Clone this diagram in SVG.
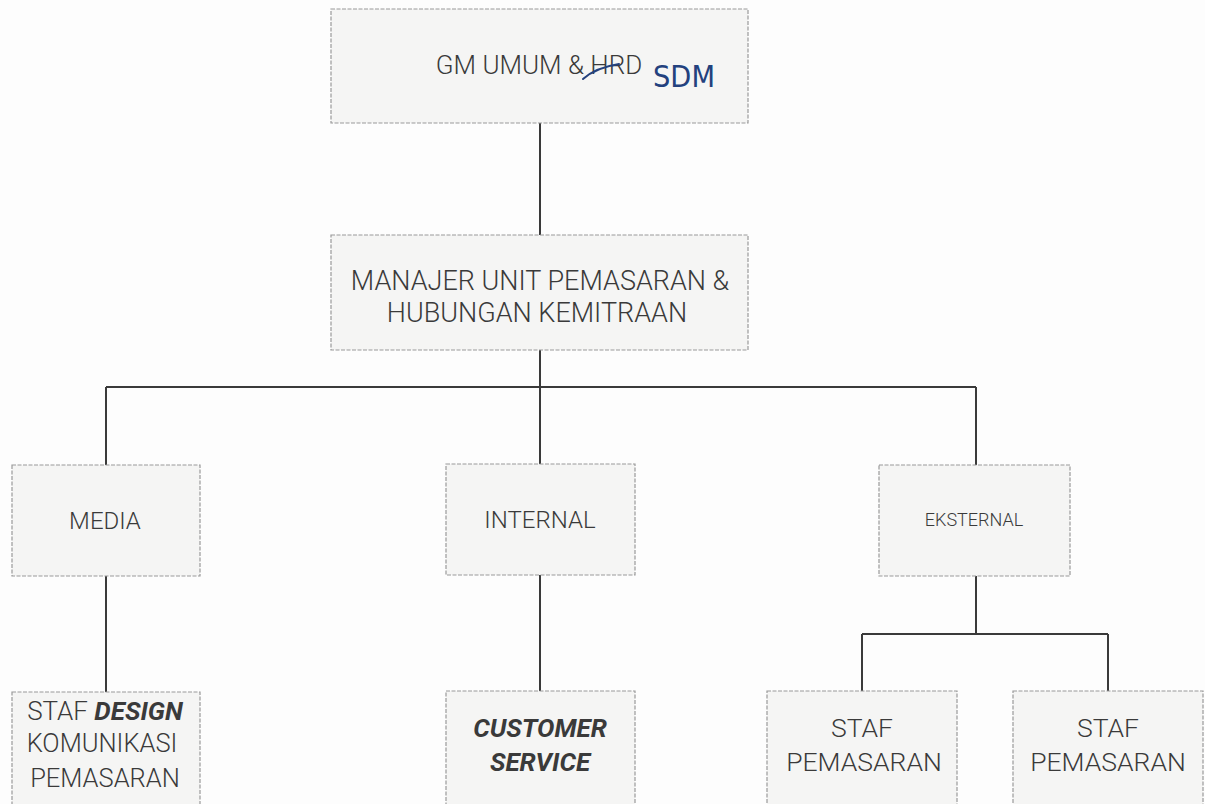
<svg xmlns="http://www.w3.org/2000/svg" width="1205" height="804" viewBox="0 0 1205 804">
<style>
.box{fill:#f5f5f4;stroke:#9a9a9a;stroke-width:1.2;stroke-dasharray:4 1.5}
.t{font-family:Roboto,"Liberation Sans",sans-serif;font-weight:300;fill:#3a3a3a;text-anchor:middle}
.bi{font-weight:700;font-style:italic}
.conn{stroke:#3a3a3a;stroke-width:2;fill:none}
.hand{font-family:"DejaVu Sans","Liberation Sans",sans-serif;font-weight:400;fill:#23417e}
</style>
<rect width="1205" height="804" fill="#fdfdfd"/>
<g id="connectors">
<path class="conn" d="M540 123V236"/>
<path class="conn" d="M540 350V387"/>
<path class="conn" d="M106 387H976"/>
<path class="conn" d="M106 387V465M540 387V464M976 387V465"/>
<path class="conn" d="M106 576V692"/>
<path class="conn" d="M540 575V691"/>
<path class="conn" d="M976 576V634"/>
<path class="conn" d="M862 634H1108"/>
<path class="conn" d="M862 634V691M1108 634V691"/>
</g>
<g id="gm">
<rect class="box" x="331" y="9" width="417" height="114"/>
<text class="t" x="539" y="74" font-size="26">GM UMUM &amp; HRD</text>
<path d="M583 79C593 70 606 66 619 64" stroke="#23417e" stroke-width="2" fill="none" stroke-linecap="round"/>
<text class="hand" x="653" y="87" font-size="30" textLength="62" lengthAdjust="spacingAndGlyphs">SDM</text>
</g>
<g id="manajer">
<rect class="box" x="331" y="235" width="417" height="115"/>
<text class="t" x="540" y="290" font-size="27">MANAJER UNIT PEMASARAN &amp;</text>
<text class="t" x="537" y="322" font-size="27">HUBUNGAN KEMITRAAN</text>
</g>
<g id="media">
<rect class="box" x="12" y="465" width="188" height="111"/>
<text class="t" x="105" y="529" font-size="24">MEDIA</text>
</g>
<g id="internal">
<rect class="box" x="446" y="464" width="189" height="111"/>
<text class="t" x="540" y="528" font-size="24">INTERNAL</text>
</g>
<g id="eksternal">
<rect class="box" x="879" y="465" width="191" height="111"/>
<text class="t" x="974" y="526" font-size="18">EKSTERNAL</text>
</g>
<g id="staf-design">
<rect class="box" x="12" y="692" width="188" height="130"/>
<text class="t" x="105" y="720" font-size="26">STAF <tspan class="bi">DESIGN</tspan></text>
<text class="t" x="102" y="752" font-size="25.5">KOMUNIKASI</text>
<text class="t" x="105" y="787" font-size="25.5">PEMASARAN</text>
</g>
<g id="customer-service">
<rect class="box" x="446" y="691" width="189" height="130"/>
<text class="t bi" x="540" y="737" font-size="26">CUSTOMER</text>
<text class="t bi" x="540" y="771" font-size="26">SERVICE</text>
</g>
<g id="staf-pemasaran-1">
<rect class="box" x="767" y="691" width="190" height="130"/>
<text class="t" x="862" y="737" font-size="26.5">STAF</text>
<text class="t" x="864" y="771" font-size="26.5">PEMASARAN</text>
</g>
<g id="staf-pemasaran-2">
<rect class="box" x="1013" y="691" width="190" height="130"/>
<text class="t" x="1108" y="737" font-size="26.5">STAF</text>
<text class="t" x="1108" y="771" font-size="26.5">PEMASARAN</text>
</g>
</svg>
